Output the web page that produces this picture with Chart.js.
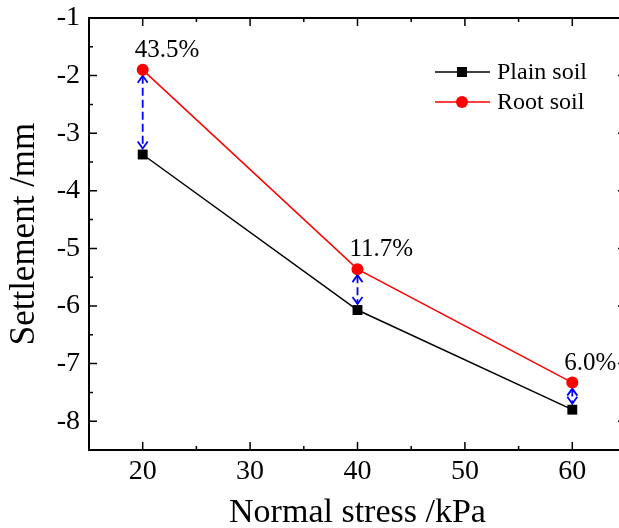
<!DOCTYPE html>
<html>
<head>
<meta charset="utf-8">
<script src="https://cdn.jsdelivr.net/npm/chart.js@4.4.1/dist/chart.umd.min.js"></script>
<style>
html, body { margin: 0; padding: 0; background: #fff; overflow: hidden; }
#wrap { width: 633px; height: 528px; }
</style>
</head>
<body>
<div id="wrap"><canvas id="settlementChart" width="633" height="528"></canvas></div>
<script>
const stress = [20, 40, 60];
const plainSoil = [-3.37, -6.07, -7.80];
const rootSoil = [-1.90, -5.36, -7.33];
const gainLabels = ['43.5%', '11.7%', '6.0%'];
const xTicks = [20, 30, 40, 50, 60];
const xMinor = [25, 35, 45, 55];
const yTicks = [-8, -7, -6, -5, -4, -3, -2, -1];
const yMinor = [-8.5, -7.5, -6.5, -5.5, -4.5, -3.5, -2.5, -1.5];

const serif = 'Liberation Serif';

// frame with inward ticks on all four sides
const frameTicks = {
    id: 'frameTicks',
    afterDatasetsDraw(chart) {
        const ctx = chart.ctx;
        const {left, right, top, bottom} = chart.chartArea;
        const xs = chart.scales.x;
        const ys = chart.scales.y;
        ctx.save();
        ctx.strokeStyle = '#000';
        ctx.lineWidth = 2;
        ctx.strokeRect(left, top, right - left, bottom - top);
        ctx.lineWidth = 1.5;
        ctx.beginPath();
        const xt = (v, len) => {
            const px = xs.getPixelForValue(v);
            ctx.moveTo(px, bottom); ctx.lineTo(px, bottom - len);
            ctx.moveTo(px, top); ctx.lineTo(px, top + len);
        };
        const yt = (v, len) => {
            const py = ys.getPixelForValue(v);
            ctx.moveTo(left, py); ctx.lineTo(left + len, py);
            ctx.moveTo(right, py); ctx.lineTo(right - len, py);
        };
        xTicks.forEach(v => xt(v, 8));
        xMinor.forEach(v => xt(v, 4));
        yTicks.forEach(v => yt(v, 8));
        yMinor.forEach(v => yt(v, 4));
        ctx.stroke();
        ctx.restore();
    }
};

// blue dashed double arrows and percentage labels
const gainArrows = {
    id: 'gainArrows',
    beforeDatasetsDraw(chart) {
        const ctx = chart.ctx;
        const xs = chart.scales.x;
        const ys = chart.scales.y;
        ctx.save();
        ctx.strokeStyle = '#0000ff';
        ctx.lineWidth = 1.8;
        stress.forEach((s, i) => {
            const x = xs.getPixelForValue(s);
            const y1 = ys.getPixelForValue(rootSoil[i]) + 6;
            const y2 = ys.getPixelForValue(plainSoil[i]) - 6;
            ctx.setLineDash([8, 4]);
            ctx.beginPath();
            ctx.moveTo(x, y1);
            ctx.lineTo(x, y2);
            ctx.stroke();
            ctx.setLineDash([]);
            ctx.beginPath();
            ctx.moveTo(x - 5, y1 + 7); ctx.lineTo(x, y1); ctx.lineTo(x + 5, y1 + 7);
            ctx.moveTo(x - 5, y2 - 7); ctx.lineTo(x, y2); ctx.lineTo(x + 5, y2 - 7);
            ctx.stroke();
        });
        ctx.restore();
    },
    afterDatasetsDraw(chart) {
        const ctx = chart.ctx;
        const xs = chart.scales.x;
        const ys = chart.scales.y;
        ctx.save();
        ctx.fillStyle = '#000';
        ctx.font = '25px "' + serif + '"';
        ctx.textAlign = 'left';
        ctx.textBaseline = 'alphabetic';
        stress.forEach((s, i) => {
            const x = xs.getPixelForValue(s);
            const y = ys.getPixelForValue(rootSoil[i]);
            ctx.fillText(gainLabels[i], x - 8, y - 13);
        });
        ctx.restore();
    }
};

// legend: line + marker + text
const lineLegend = {
    id: 'lineLegend',
    afterDraw(chart) {
        const ctx = chart.ctx;
        ctx.save();
        ctx.font = '24px "' + serif + '"';
        ctx.textBaseline = 'middle';
        ctx.textAlign = 'left';
        chart.data.datasets.forEach((ds, i) => {
            const y = 72 + i * 30;
            ctx.strokeStyle = ds.borderColor;
            ctx.lineWidth = ds.borderWidth;
            ctx.beginPath();
            ctx.moveTo(435, y);
            ctx.lineTo(490, y);
            ctx.stroke();
            ctx.fillStyle = ds.pointBackgroundColor;
            if (ds.pointStyle === 'rect') {
                ctx.fillRect(457, y - 5, 10, 10);
            } else {
                ctx.beginPath();
                ctx.arc(462, y, 6, 0, Math.PI * 2);
                ctx.fill();
            }
            ctx.fillStyle = '#000';
            ctx.fillText(ds.label, 497, y + 1);
        });
        ctx.restore();
    }
};

new Chart(document.getElementById('settlementChart'), {
    type: 'line',
    data: {
        datasets: [{
            label: 'Plain soil',
            data: stress.map((s, i) => ({x: s, y: plainSoil[i]})),
            borderColor: '#000000',
            borderWidth: 1.5,
            pointStyle: 'rect',
            pointRadius: 7,
            pointBackgroundColor: '#000000',
            pointBorderWidth: 0,
            tension: 0
        }, {
            label: 'Root soil',
            data: stress.map((s, i) => ({x: s, y: rootSoil[i]})),
            borderColor: '#ff0000',
            borderWidth: 1.5,
            pointStyle: 'circle',
            pointRadius: 6,
            pointBackgroundColor: '#ff0000',
            pointBorderWidth: 0,
            tension: 0
        }]
    },
    options: {
        responsive: false,
        animation: false,
        layout: { padding: { top: 18, right: 3, left: 0, bottom: 0 } },
        plugins: {
            legend: { display: false },
            tooltip: { enabled: false }
        },
        scales: {
            x: {
                type: 'linear',
                min: 15,
                max: 65,
                afterBuildTicks: scale => { scale.ticks = xTicks.map(v => ({value: v})); },
                afterFit: scale => {
                    scale.height = 78;
                    scale.paddingLeft = 0;
                    scale.paddingRight = 0;
                },
                grid: { display: false, drawTicks: false },
                border: { display: false },
                ticks: { color: '#000', font: { family: serif, size: 28 }, padding: 5 },
                title: { display: true, text: 'Normal stress /kPa', color: '#000',
                         font: { family: serif, size: 34, lineHeight: 0.9 }, padding: { top: 0, bottom: 0 } }
            },
            y: {
                min: -8.5,
                max: -1,
                afterBuildTicks: scale => { scale.ticks = yTicks.map(v => ({value: v})); },
                afterFit: scale => {
                    scale.width = 89;
                    scale.paddingTop = 0;
                    scale.paddingBottom = 0;
                },
                grid: { display: false, drawTicks: false },
                border: { display: false },
                ticks: { color: '#000', font: { family: serif, size: 28 }, padding: 9 },
                title: { display: true, text: 'Settlement /mm', color: '#000',
                         font: { family: serif, size: 35, lineHeight: 1 }, padding: { top: 7, bottom: 0 } }
            }
        }
    },
    plugins: [frameTicks, gainArrows, lineLegend]
});
</script>
</body>
</html>
